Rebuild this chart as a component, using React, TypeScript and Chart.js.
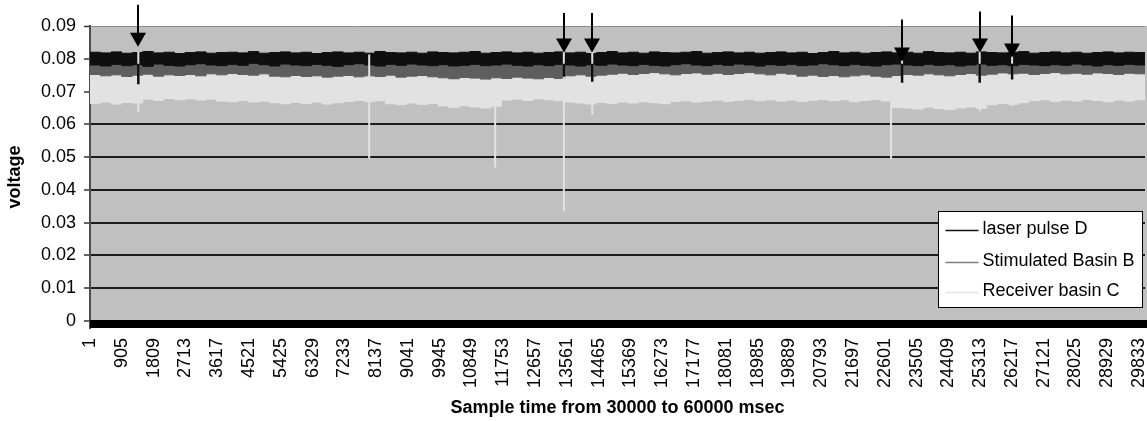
import React, { useEffect, useRef } from 'react';
import { Chart, registerables } from 'chart.js';

Chart.register(...registerables);

const FONT = '"Liberation Sans", Arial, Helvetica, sans-serif';

const SERIES_NAMES = ['laser pulse D', 'Stimulated Basin B', 'Receiver basin C'];
const SERIES_COLORS = ['#0f0f0f', '#5e5e5e', '#e2e2e2'];
const LEGEND_COLORS = ['#111111', '#7c7c7c', '#e4e4e4'];

// each bin covers 300 samples (min/max envelope of the dense signal)
const BIN_SIZE = 300;

const xTickLabels = [
  '1', '905', '1809', '2713', '3617', '4521', '5425', '6329', '7233', '8137',
  '9041', '9945', '10849', '11753', '12657', '13561', '14465', '15369', '16273', '17177',
  '18081', '18985', '19889', '20793', '21697', '22601', '23505', '24409', '25313', '26217',
  '27121', '28025', '28929', '29833',
];
const yTickValues = [0, 0.01, 0.02, 0.03, 0.04, 0.05, 0.06, 0.07, 0.08, 0.09];
const yTickLabels = ['0', '0.01', '0.02', '0.03', '0.04', '0.05', '0.06', '0.07', '0.08', '0.09'];

// laser pulse D envelope
const laserMax = [
  0.0820, 0.0818, 0.0821, 0.0817, 0.0819, 0.0822, 0.0818, 0.0820, 0.0816, 0.0819,
  0.0821, 0.0817, 0.0819, 0.0820, 0.0818, 0.0822, 0.0817, 0.0819, 0.0821, 0.0818,
  0.0820, 0.0816, 0.0819, 0.0821, 0.0818, 0.0820, 0.0817, 0.0822, 0.0819, 0.0818,
  0.0820, 0.0817, 0.0821, 0.0819, 0.0818, 0.0820, 0.0822, 0.0817, 0.0819, 0.0821,
  0.0818, 0.0820, 0.0817, 0.0819, 0.0821, 0.0818, 0.0820, 0.0816, 0.0819, 0.0822,
  0.0818, 0.0820, 0.0817, 0.0821, 0.0819, 0.0818, 0.0820, 0.0822, 0.0817, 0.0819,
  0.0821, 0.0818, 0.0820, 0.0817, 0.0819, 0.0821, 0.0818, 0.0820, 0.0816, 0.0819,
  0.0822, 0.0818, 0.0820, 0.0817, 0.0819, 0.0821, 0.0818, 0.0820, 0.0817, 0.0822,
  0.0819, 0.0818, 0.0820, 0.0817, 0.0821, 0.0819, 0.0818, 0.0820, 0.0822, 0.0817,
  0.0819, 0.0821, 0.0818, 0.0820, 0.0817, 0.0819, 0.0821, 0.0818, 0.0820, 0.0819,
];
const laserMin = [
  0.0781, 0.0778, 0.0783, 0.0779, 0.0782, 0.0777, 0.0784, 0.0780, 0.0778, 0.0782,
  0.0785, 0.0781, 0.0779, 0.0783, 0.0780, 0.0786, 0.0782, 0.0778, 0.0784, 0.0781,
  0.0779, 0.0783, 0.0780, 0.0777, 0.0782, 0.0785, 0.0781, 0.0778, 0.0783, 0.0780,
  0.0784, 0.0781, 0.0779, 0.0782, 0.0778, 0.0780, 0.0783, 0.0779, 0.0781, 0.0784,
  0.0780, 0.0778, 0.0782, 0.0779, 0.0783, 0.0781, 0.0778, 0.0782, 0.0780, 0.0784,
  0.0781, 0.0779, 0.0783, 0.0780, 0.0778, 0.0782, 0.0785, 0.0781, 0.0779, 0.0783,
  0.0780, 0.0784, 0.0781, 0.0778, 0.0782, 0.0780, 0.0783, 0.0779, 0.0781, 0.0785,
  0.0782, 0.0779, 0.0783, 0.0780, 0.0778, 0.0782, 0.0784, 0.0781, 0.0779, 0.0783,
  0.0780, 0.0782, 0.0778, 0.0781, 0.0784, 0.0780, 0.0782, 0.0779, 0.0783, 0.0781,
  0.0779, 0.0782, 0.0780, 0.0784, 0.0781, 0.0778, 0.0782, 0.0780, 0.0783, 0.0781,
];

// Stimulated Basin B envelope
const basinBMax = [
  0.0803, 0.0801, 0.0805, 0.0802, 0.0804, 0.0800, 0.0803, 0.0806, 0.0802, 0.0804,
  0.0801, 0.0803, 0.0805, 0.0802, 0.0800, 0.0804, 0.0803, 0.0801, 0.0805, 0.0802,
  0.0804, 0.0801, 0.0803, 0.0806, 0.0802, 0.0800, 0.0804, 0.0803, 0.0801, 0.0805,
  0.0802, 0.0804, 0.0800, 0.0803, 0.0801, 0.0805, 0.0802, 0.0804, 0.0801, 0.0803,
  0.0806, 0.0802, 0.0800, 0.0804, 0.0803, 0.0801, 0.0805, 0.0802, 0.0804, 0.0800,
  0.0803, 0.0806, 0.0802, 0.0804, 0.0801, 0.0803, 0.0805, 0.0802, 0.0800, 0.0804,
  0.0803, 0.0801, 0.0805, 0.0802, 0.0804, 0.0800, 0.0803, 0.0806, 0.0802, 0.0804,
  0.0801, 0.0803, 0.0805, 0.0802, 0.0800, 0.0804, 0.0803, 0.0801, 0.0805, 0.0802,
  0.0804, 0.0801, 0.0803, 0.0806, 0.0802, 0.0800, 0.0804, 0.0803, 0.0801, 0.0805,
  0.0802, 0.0804, 0.0800, 0.0803, 0.0801, 0.0805, 0.0802, 0.0804, 0.0801, 0.0803,
];
const basinBMin = [
  0.0752, 0.0748, 0.0751, 0.0746, 0.0750, 0.0753, 0.0747, 0.0751, 0.0749, 0.0752,
  0.0748, 0.0754, 0.0751, 0.0755, 0.0752, 0.0750, 0.0754, 0.0747, 0.0745, 0.0749,
  0.0746, 0.0748, 0.0744, 0.0747, 0.0749, 0.0745, 0.0748, 0.0746, 0.0750, 0.0744,
  0.0747, 0.0749, 0.0745, 0.0742, 0.0739, 0.0743, 0.0741, 0.0738, 0.0742, 0.0740,
  0.0744, 0.0741, 0.0739, 0.0743, 0.0740, 0.0748, 0.0751, 0.0747, 0.0750, 0.0753,
  0.0756, 0.0752, 0.0755, 0.0758, 0.0754, 0.0751, 0.0755, 0.0757, 0.0753, 0.0756,
  0.0752, 0.0755, 0.0758, 0.0754, 0.0751, 0.0756, 0.0753, 0.0747, 0.0750, 0.0746,
  0.0749, 0.0745, 0.0748, 0.0751, 0.0747, 0.0744, 0.0749, 0.0752, 0.0750, 0.0754,
  0.0751, 0.0748, 0.0752, 0.0755, 0.0750, 0.0753, 0.0757, 0.0754, 0.0756, 0.0752,
  0.0755, 0.0758, 0.0754, 0.0756, 0.0753, 0.0757, 0.0755, 0.0752, 0.0756, 0.0754,
];

// Receiver basin C envelope
const receiverCMax = [
  0.0764, 0.0762, 0.0766, 0.0763, 0.0765, 0.0761, 0.0764, 0.0767, 0.0763, 0.0765,
  0.0762, 0.0764, 0.0766, 0.0763, 0.0761, 0.0765, 0.0764, 0.0762, 0.0766, 0.0763,
  0.0765, 0.0762, 0.0764, 0.0767, 0.0763, 0.0761, 0.0765, 0.0764, 0.0762, 0.0766,
  0.0763, 0.0765, 0.0761, 0.0764, 0.0762, 0.0766, 0.0763, 0.0765, 0.0762, 0.0764,
  0.0767, 0.0763, 0.0761, 0.0765, 0.0764, 0.0762, 0.0766, 0.0763, 0.0765, 0.0761,
  0.0764, 0.0767, 0.0763, 0.0765, 0.0762, 0.0764, 0.0766, 0.0763, 0.0761, 0.0765,
  0.0764, 0.0762, 0.0766, 0.0763, 0.0765, 0.0761, 0.0764, 0.0767, 0.0763, 0.0765,
  0.0762, 0.0764, 0.0766, 0.0763, 0.0761, 0.0765, 0.0764, 0.0762, 0.0766, 0.0763,
  0.0765, 0.0762, 0.0764, 0.0767, 0.0763, 0.0761, 0.0765, 0.0764, 0.0762, 0.0766,
  0.0763, 0.0765, 0.0761, 0.0764, 0.0762, 0.0766, 0.0763, 0.0765, 0.0762, 0.0764,
];
const receiverCMin = [
  0.0664, 0.0668, 0.0662, 0.0667, 0.0665, 0.0677, 0.0673, 0.0679, 0.0675, 0.0678,
  0.0674, 0.0677, 0.0671, 0.0669, 0.0673, 0.0668, 0.0671, 0.0666, 0.0663, 0.0667,
  0.0664, 0.0668, 0.0662, 0.0666, 0.0670, 0.0673, 0.0669, 0.0672, 0.0663, 0.0660,
  0.0665, 0.0661, 0.0664, 0.0656, 0.0652, 0.0657, 0.0653, 0.0650, 0.0655, 0.0674,
  0.0677, 0.0673, 0.0678, 0.0675, 0.0672, 0.0668, 0.0665, 0.0662, 0.0667, 0.0664,
  0.0668, 0.0665, 0.0669, 0.0666, 0.0663, 0.0670, 0.0672, 0.0668, 0.0671, 0.0674,
  0.0670, 0.0673, 0.0676, 0.0672, 0.0675, 0.0671, 0.0674, 0.0670, 0.0673, 0.0676,
  0.0672, 0.0675, 0.0669, 0.0673, 0.0676, 0.0671, 0.0651, 0.0650, 0.0647, 0.0652,
  0.0648, 0.0645, 0.0650, 0.0653, 0.0649, 0.0660, 0.0664, 0.0661, 0.0666, 0.0672,
  0.0675, 0.0670, 0.0674, 0.0671, 0.0676, 0.0673, 0.0669, 0.0674, 0.0671, 0.0675,
];

// isolated single-sample excursions
const receiverSpikeSamples = [1375, 7940, 11522, 13475, 14283, 22780, 23093, 25300, 26222];
const receiverSpikeLows = [0.0638, 0.0495, 0.0468, 0.0335, 0.0630, 0.0495, 0.0660, 0.0640, 0.0655];
const receiverSpikeHighs = [0.0822, 0.0813, 0.0670, 0.0822, 0.0822, 0.0672, 0.0822, 0.0822, 0.0822];
const laserDipSamples = [1375, 13475, 14283, 23093, 25300, 26222];
const laserDipLows = [0.0722, 0.0745, 0.0730, 0.0727, 0.0727, 0.0737];
const laserDipHighs = [0.0785, 0.0785, 0.0785, 0.0785, 0.0785, 0.0785];

// arrows marking the laser pulses (sample, tail voltage, tip voltage)
const arrowSamples = [1375, 13475, 14283, 23093, 25300, 26222];
const arrowTails = [0.0965, 0.0940, 0.0940, 0.0920, 0.0944, 0.0932];
const arrowTips = [0.0837, 0.0819, 0.0819, 0.0792, 0.0819, 0.0804];

function envelope(values: number[]) {
  const pts = values.map((v, i) => ({ x: 1 + i * BIN_SIZE, y: v }));
  pts.push({ x: 1 + values.length * BIN_SIZE, y: values[values.length - 1] });
  return pts;
}

function spikes(samples: number[], lows: number[], highs: number[]) {
  const pts: { x: number; y: number | null }[] = [];
  samples.forEach((s, i) => {
    pts.push({ x: s, y: lows[i] });
    pts.push({ x: s, y: highs[i] });
    pts.push({ x: s, y: null });
  });
  return pts;
}

const plotBgPlugin = {
  id: 'plotBg',
  beforeDraw(chart: any) {
    const { ctx, chartArea: a } = chart;
    ctx.save();
    ctx.fillStyle = '#c0c0c0';
    ctx.fillRect(a.left, a.top, a.right - a.left + 2, a.bottom - a.top);
    ctx.restore();
  },
};

const zeroBandPlugin = {
  id: 'zeroBand',
  afterDatasetsDraw(chart: any) {
    const { ctx, chartArea: a, scales } = chart;
    const y0 = scales.y.getPixelForValue(0);
    ctx.save();
    ctx.fillStyle = '#000000';
    ctx.fillRect(a.left, y0 - 1, a.right - a.left + 2, a.bottom - y0 + 1);
    ctx.restore();
  },
};

const arrowPlugin = {
  id: 'arrows',
  afterDraw(chart: any) {
    const { ctx, scales } = chart;
    ctx.save();
    ctx.fillStyle = '#000';
    ctx.strokeStyle = '#000';
    ctx.lineWidth = 2;
    arrowSamples.forEach((s, i) => {
      const px = Math.round(scales.x.getPixelForValue(s));
      const top = scales.y.getPixelForValue(arrowTails[i]);
      const tip = scales.y.getPixelForValue(arrowTips[i]);
      const headH = 14;
      const headW = 8;
      ctx.beginPath();
      ctx.moveTo(px, top);
      ctx.lineTo(px, tip - headH + 1);
      ctx.stroke();
      ctx.beginPath();
      ctx.moveTo(px - headW, tip - headH);
      ctx.lineTo(px + headW, tip - headH);
      ctx.lineTo(px, tip);
      ctx.closePath();
      ctx.fill();
    });
    ctx.restore();
  },
};

const legendPlugin = {
  id: 'boxLegend',
  afterDraw(chart: any) {
    const { ctx, chartArea: a } = chart;
    const w = 204;
    const h = 96;
    const bx = Math.round(a.right - 207) + 0.5;
    const by = Math.round(a.bottom - 117) + 0.5;
    ctx.save();
    ctx.fillStyle = '#ffffff';
    ctx.fillRect(bx, by, w, h);
    ctx.strokeStyle = '#000000';
    ctx.lineWidth = 1;
    ctx.strokeRect(bx, by, w, h);
    const rows = [18, 50, 80];
    ctx.font = `18px ${FONT}`;
    ctx.textBaseline = 'middle';
    ctx.textAlign = 'left';
    SERIES_NAMES.forEach((name, i) => {
      const ry = by + rows[i];
      ctx.strokeStyle = LEGEND_COLORS[i];
      ctx.lineWidth = 1.5;
      ctx.beginPath();
      ctx.moveTo(bx + 7, ry + 1);
      ctx.lineTo(bx + 40, ry + 1);
      ctx.stroke();
      ctx.fillStyle = '#000000';
      ctx.fillText(name, bx + 44, ry);
    });
    ctx.restore();
  },
};

export default function App() {
  const ref = useRef<HTMLCanvasElement | null>(null);

  useEffect(() => {
    if (!ref.current) return;
    const bandBase = { pointRadius: 0, borderWidth: 1, stepped: true, tension: 0 };
    const chart = new Chart(ref.current, {
      type: 'line',
      data: {
        datasets: [
          { ...bandBase, label: SERIES_NAMES[0] + ' max', data: envelope(laserMax), borderColor: SERIES_COLORS[0], fill: false, order: 3 },
          { ...bandBase, label: SERIES_NAMES[0], data: envelope(laserMin), borderColor: SERIES_COLORS[0], backgroundColor: SERIES_COLORS[0], fill: 0, order: 3 },
          { ...bandBase, label: SERIES_NAMES[1] + ' max', data: envelope(basinBMax), borderColor: SERIES_COLORS[1], fill: false, order: 5 },
          { ...bandBase, label: SERIES_NAMES[1], data: envelope(basinBMin), borderColor: SERIES_COLORS[1], backgroundColor: SERIES_COLORS[1], fill: 2, order: 5 },
          { ...bandBase, label: SERIES_NAMES[2] + ' max', data: envelope(receiverCMax), borderColor: SERIES_COLORS[2], fill: false, order: 7 },
          { ...bandBase, label: SERIES_NAMES[2], data: envelope(receiverCMin), borderColor: SERIES_COLORS[2], backgroundColor: SERIES_COLORS[2], fill: 4, order: 7 },
          { label: 'C spikes', data: spikes(receiverSpikeSamples, receiverSpikeLows, receiverSpikeHighs), borderColor: SERIES_COLORS[2], borderWidth: 2, pointRadius: 0, fill: false, spanGaps: false, order: 1 },
          { label: 'D dips', data: spikes(laserDipSamples, laserDipLows, laserDipHighs), borderColor: SERIES_COLORS[0], borderWidth: 2.5, pointRadius: 0, fill: false, spanGaps: false, order: 0 },
        ] as any,
      },
      options: {
        animation: false,
        responsive: false,
        devicePixelRatio: 1,
        events: [],
        layout: { padding: { top: 26, right: 2, left: 0, bottom: 0 } },
        plugins: {
          legend: { display: false },
          tooltip: { enabled: false },
        },
        scales: {
          x: {
            type: 'linear',
            min: 1,
            max: 30001,
            afterBuildTicks: (s: any) => {
              s.ticks = xTickLabels.map((l) => ({ value: Number(l) }));
            },
            afterFit: (s: any) => {
              s.height = 93;
              s.paddingLeft = 0;
              s.paddingRight = 0;
            },
            ticks: {
              autoSkip: false,
              minRotation: 90,
              maxRotation: 90,
              padding: 10,
              color: '#000',
              font: { family: FONT, size: 18 },
              callback: (_v: any, i: number) => xTickLabels[i],
            },
            grid: { display: false, drawTicks: false },
            border: { display: false },
            title: {
              display: true,
              text: 'Sample time from 30000 to 60000 msec',
              color: '#000',
              font: { family: FONT, size: 18, weight: 'bold' },
              padding: { top: 0, bottom: 2 },
            },
          },
          y: {
            type: 'linear',
            min: -0.00213,
            max: 0.09,
            afterBuildTicks: (s: any) => {
              s.ticks = yTickValues.map((v) => ({ value: v }));
            },
            afterFit: (s: any) => {
              s.width = 90;
              s.paddingTop = 0;
              s.paddingBottom = 0;
            },
            ticks: {
              padding: 8,
              color: '#000',
              font: { family: FONT, size: 18 },
              callback: (_v: any, i: number) => yTickLabels[i],
            },
            grid: {
              color: (c: any) => (c.tick && c.tick.value === 0.09 ? '#8c8c8c' : '#1c1c1c'),
              lineWidth: (c: any) => (c.tick && c.tick.value === 0.09 ? 1 : 2),
              tickColor: '#333333',
              tickLength: 6,
              tickWidth: 1.5,
            },
            border: { color: '#4d4d4d', width: 2 },
            title: {
              display: true,
              text: 'voltage',
              color: '#000',
              font: { family: FONT, size: 18, weight: 'bold' },
              padding: { top: 4, bottom: 0 },
            },
          },
        },
      } as any,
      plugins: [plotBgPlugin, zeroBandPlugin, arrowPlugin, legendPlugin],
    });
    return () => chart.destroy();
  }, []);

  return (
    <div style={{ position: 'fixed', left: 0, top: 0, width: 1147, height: 421, background: '#ffffff' }}>
      <canvas ref={ref} width={1147} height={421} style={{ display: 'block', width: 1147, height: 421 }} />
    </div>
  );
}
